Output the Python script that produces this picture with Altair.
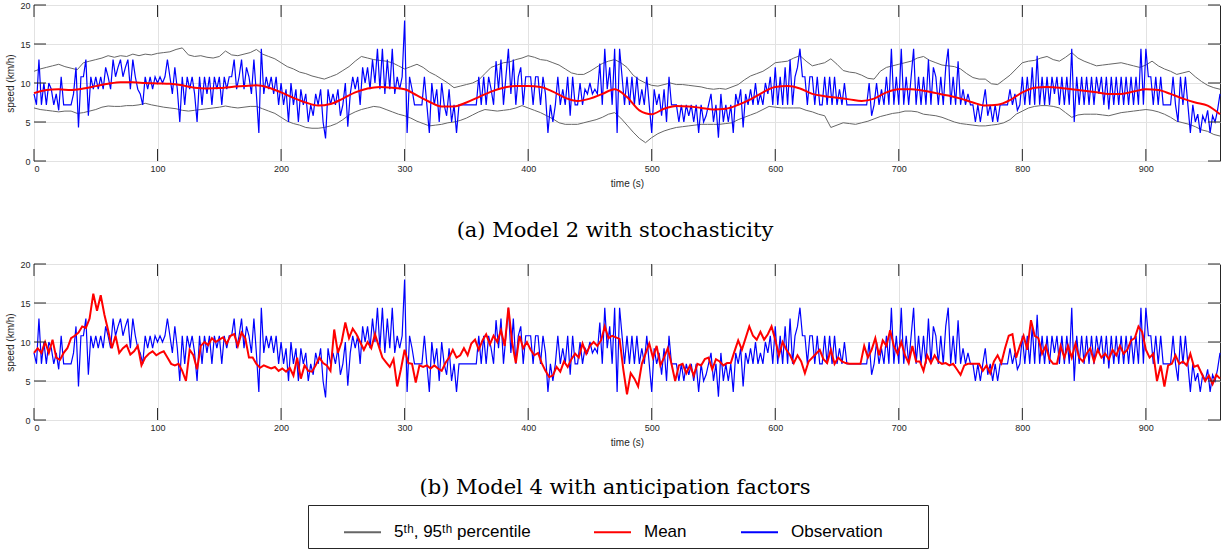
import altair as alt
import pandas as pd

# ---------------- data ----------------
# Observation, every 2 s, t = 0 .. 960
obs = [
    8.6, 7.2, 13.0, 7.2, 10.0, 7.2, 10.0, 9.2, 7.2, 8.6, 6.5, 10.8, 7.2, 7.2, 7.2, 7.2, 8.6, 12.0, 4.3, 10.8,
    10.8, 13.0, 5.8, 10.8, 9.2, 10.8, 9.2, 10.8, 9.2, 12.0, 10.8, 9.2, 13.0, 10.8, 12.0, 13.0, 10.8, 12.0, 13.0, 9.2,
    13.0, 10.8, 9.2, 8.6, 7.2, 10.8, 9.2, 10.8, 9.2, 10.8, 10.0, 10.8, 10.0, 10.8, 13.0, 10.8, 8.6, 12.0, 9.2, 5.0,
    10.8, 7.2, 10.8, 9.2, 10.8, 8.6, 5.0, 10.8, 7.2, 10.8, 8.6, 10.8, 7.2, 10.8, 9.2, 10.8, 7.2, 10.8, 9.2, 10.8,
    10.8, 13.0, 9.2, 10.8, 13.0, 9.2, 12.0, 10.8, 8.6, 13.0, 8.6, 3.6, 14.4, 8.6, 10.8, 9.2, 10.8, 8.6, 10.8, 7.2,
    10.0, 7.2, 9.2, 5.0, 10.0, 7.2, 9.2, 5.0, 9.2, 7.2, 8.6, 5.0, 7.2, 5.8, 8.6, 7.2, 9.2, 5.0, 2.9, 9.2,
    7.2, 8.6, 7.2, 9.2, 5.8, 7.2, 10.0, 4.4, 8.6, 10.8, 9.2, 10.8, 7.2, 12.0, 10.0, 12.0, 9.2, 13.0, 10.0, 14.4,
    9.2, 14.4, 8.6, 13.0, 9.2, 14.4, 8.6, 10.8, 9.2, 10.8, 18.0, 3.6, 10.8, 9.2, 7.2, 7.2, 7.2, 7.2, 10.8, 7.2,
    3.6, 10.0, 7.2, 9.2, 5.0, 10.0, 7.2, 5.8, 9.2, 5.0, 7.2, 3.6, 7.2, 7.2, 7.2, 7.2, 7.2, 7.2, 7.2, 7.2,
    10.8, 7.2, 10.8, 7.2, 10.8, 9.2, 7.2, 12.8, 9.2, 13.0, 7.2, 10.8, 14.4, 8.6, 13.0, 7.2, 10.8, 12.0, 7.2, 10.8,
    10.8, 10.8, 7.2, 10.8, 10.8, 7.2, 10.8, 8.6, 3.6, 7.2, 5.0, 7.2, 10.8, 7.2, 9.2, 7.2, 10.8, 5.8, 10.8, 7.2,
    7.2, 10.0, 7.2, 9.2, 8.6, 10.0, 8.6, 9.2, 8.6, 12.5, 7.2, 14.4, 9.2, 12.0, 7.2, 14.4, 3.6, 14.4, 10.8, 7.2,
    10.8, 7.2, 10.8, 7.2, 10.8, 7.2, 9.2, 7.2, 10.8, 7.2, 3.6, 9.2, 7.2, 8.6, 5.8, 9.2, 5.0, 10.8, 7.2, 7.2,
    7.2, 5.0, 7.2, 5.0, 7.2, 5.8, 7.2, 5.0, 7.2, 3.6, 7.2, 5.0, 5.8, 7.2, 8.6, 5.0, 7.2, 3.0, 8.6, 5.0,
    7.2, 5.0, 7.2, 3.6, 8.6, 7.2, 9.2, 4.3, 8.6, 7.2, 9.2, 7.2, 10.0, 7.2, 8.6, 7.2, 10.0, 8.6, 10.8, 7.2,
    12.0, 7.2, 10.8, 7.2, 12.0, 7.2, 13.0, 7.2, 10.8, 12.0, 14.4, 10.8, 10.8, 7.2, 10.8, 10.8, 7.2, 10.8, 7.2, 7.2,
    10.8, 7.2, 10.8, 7.2, 10.8, 7.2, 9.2, 7.2, 10.0, 7.2, 7.2, 7.2, 7.2, 7.2, 7.2, 7.2, 7.2, 7.2, 10.0, 5.8,
    7.2, 10.0, 7.2, 9.2, 7.2, 10.8, 7.2, 14.4, 7.2, 10.8, 7.2, 14.4, 7.2, 10.8, 7.2, 10.8, 14.4, 7.2, 10.8, 7.2,
    10.8, 7.2, 13.0, 7.2, 12.0, 10.8, 7.2, 10.8, 7.2, 12.0, 14.4, 7.2, 10.8, 7.2, 12.8, 7.2, 9.2, 7.2, 8.6, 7.2,
    7.2, 5.0, 7.2, 5.0, 7.2, 9.2, 5.8, 7.2, 5.0, 7.2, 5.0, 7.2, 7.2, 7.2, 7.2, 9.2, 7.2, 8.6, 6.5, 7.2,
    10.8, 7.2, 10.8, 7.2, 12.0, 7.2, 13.5, 7.2, 10.8, 7.2, 10.8, 7.2, 10.8, 8.6, 10.8, 7.2, 10.8, 7.2, 10.8, 7.2,
    14.4, 5.0, 10.8, 7.2, 10.8, 7.2, 10.8, 7.2, 10.8, 7.2, 10.8, 8.6, 10.8, 7.2, 10.8, 6.6, 10.8, 7.2, 10.8, 7.2,
    10.8, 7.2, 10.8, 7.2, 10.8, 7.2, 10.8, 7.2, 14.4, 7.2, 14.4, 10.8, 10.8, 7.2, 10.8, 7.2, 10.8, 7.2, 7.2, 7.2,
    7.2, 10.8, 7.2, 5.0, 10.8, 7.2, 10.8, 7.2, 3.6, 7.2, 5.0, 6.0, 3.6, 5.8, 5.0, 6.5, 3.6, 5.8, 5.0, 6.5,
    8.6,
]

# Model 2 mean, every 10 s
mean_a = [
    8.7, 9.1, 9.2, 9.1, 9.3, 9.6, 9.9, 10.1, 10.1, 10.0,
    9.95, 9.9, 9.7, 9.4, 9.3, 9.35, 9.5, 9.6, 9.7, 9.4,
    8.8, 8.1, 7.5, 7.1, 7.3, 8.0, 8.8, 9.3, 9.5, 9.4,
    9.2, 8.4, 7.6, 7.0, 7.0, 7.5, 8.2, 8.9, 9.4, 9.6,
    9.6, 9.5, 8.9, 8.1, 7.7, 8.0, 8.6, 9.2, 8.2, 6.5,
    6.0, 6.7, 7.05, 7.0, 6.8, 6.6, 6.7, 7.2, 7.9, 8.8,
    9.5, 9.6, 9.3, 8.6, 8.3, 8.1, 7.9, 7.7, 8.0, 8.8,
    9.2, 9.2, 9.0, 8.7, 8.4, 8.0, 7.5, 7.1, 7.2, 7.8,
    8.8, 9.4, 9.5, 9.4, 9.2, 9.0, 8.8, 8.6, 8.6, 8.9,
    9.2, 9.1, 8.6, 8.0, 7.5, 7.1, 6.0,
]

# Model 2 percentiles, every 5 s
p95 = [
    11.5, 11.8, 12.0, 12.2, 12.4, 12.1, 11.9, 11.7, 12.6, 12.8,
    13.0, 13.2, 13.5, 13.3, 13.5, 13.4, 13.7, 13.5, 13.7, 13.6,
    13.8, 13.9, 14.0, 14.3, 14.5, 13.6, 13.4, 13.5, 13.3, 13.2,
    13.4, 14.1, 13.6, 13.5, 13.7, 13.9, 14.3, 13.7, 13.4, 13.1,
    12.6, 12.1, 11.8, 11.4, 11.2, 10.9, 10.7, 10.5, 10.8, 11.1,
    11.6, 12.1, 12.8, 13.4, 13.2, 13.0, 12.9, 12.8, 12.6, 12.2,
    11.8, 12.1, 12.4, 12.0, 11.4, 11.0, 10.5, 10.0, 9.4, 9.6,
    9.8, 10.0, 10.4, 11.2, 12.0, 12.3, 12.6, 12.7, 13.0, 13.2,
    13.5, 13.3, 13.0, 12.9, 12.6, 12.3, 11.8, 11.3, 11.1, 11.1,
    11.5, 12.0, 12.5, 12.8, 13.0, 12.6, 12.0, 11.0, 10.4, 10.0,
    9.7, 9.6, 9.8, 10.0, 9.8, 9.8, 9.7, 9.6, 9.5, 9.3,
    9.2, 9.3, 9.2, 9.5, 9.8, 10.4, 10.9, 11.2, 11.5, 12.0,
    12.6, 12.7, 12.8, 13.2, 13.5, 12.8, 12.2, 12.4, 12.6, 13.1,
    12.4, 11.6, 11.4, 11.3, 11.0, 10.6, 10.5, 11.5, 12.0, 12.2,
    12.4, 12.6, 12.8, 13.2, 13.4, 12.9, 12.6, 12.3, 12.2, 12.1,
    11.8, 11.2, 10.7, 10.5, 10.5, 9.9, 9.8, 10.4, 11.0, 11.8,
    12.6, 12.8, 12.9, 13.2, 13.4, 13.0, 12.8, 13.3, 13.9, 13.2,
    12.8, 12.5, 12.2, 12.3, 12.4, 12.5, 12.6, 12.4, 12.2, 12.0,
    12.3, 12.8, 12.2, 11.8, 11.5, 11.1, 11.3, 11.5, 10.8, 10.2,
    9.7, 9.4, 9.2,
]
p05 = [
    6.8, 6.6, 6.5, 6.4, 6.3, 6.4, 6.4, 6.1, 6.2, 6.4,
    6.6, 6.9, 7.05, 7.0, 7.0, 7.1, 7.1, 7.2, 7.4, 7.2,
    7.05, 6.9, 6.8, 6.7, 6.5, 6.4, 6.5, 6.6, 6.7, 6.8,
    6.9, 7.05, 6.9, 6.8, 6.9, 7.0, 7.0, 6.7, 6.4, 6.1,
    5.6, 5.1, 4.8, 4.6, 4.3, 4.2, 4.2, 4.3, 4.5, 4.8,
    5.3, 5.9, 6.3, 6.6, 6.8, 7.0, 6.9, 6.6, 6.3, 6.0,
    5.8, 5.5, 5.1, 4.8, 4.5, 4.6, 4.7, 4.9, 5.0, 5.2,
    5.5, 5.9, 6.3, 6.6, 6.5, 6.4, 6.5, 6.6, 6.8, 7.1,
    6.8, 6.5, 6.2, 5.8, 5.4, 4.9, 4.7, 4.7, 4.7, 4.9,
    5.1, 5.3, 5.6, 6.0, 6.2, 5.5, 4.6, 3.7, 2.9, 2.35,
    3.0, 3.5, 3.85, 4.1, 4.3, 4.4, 4.5, 4.6, 4.7, 4.7,
    4.7, 4.7, 4.8, 4.9, 5.3, 5.6, 5.9, 6.2, 6.6, 7.0,
    6.9, 6.8, 6.8, 6.8, 6.8, 6.5, 6.3, 6.0, 5.8, 4.3,
    4.6, 4.9, 4.8, 4.7, 4.9, 5.1, 5.4, 5.7, 5.9, 6.1,
    6.2, 6.4, 6.4, 6.3, 6.0, 5.9, 5.8, 5.6, 5.3, 5.0,
    4.8, 4.7, 4.6, 4.5, 4.5, 4.6, 4.7, 4.9, 5.3, 6.0,
    6.4, 6.8, 7.0, 7.1, 7.1, 7.0, 6.8, 6.2, 5.6, 5.9,
    6.0, 6.0, 6.0, 5.9, 5.8, 6.0, 6.2, 6.3, 6.4, 6.5,
    6.6, 6.5, 6.3, 6.0, 5.6, 5.1, 4.9, 4.7, 4.4, 4.0,
    3.8, 3.4, 3.2,
]

# Model 4 mean, every 3 s
mean_b = [
    8.6, 9.2, 8.6, 10.0, 8.6, 10.3, 8.0, 7.7, 8.6, 9.2,
    10.5, 10.8, 11.2, 12.0, 11.8, 13.0, 16.2, 14.0, 16.0, 13.5,
    11.5, 9.2, 10.8, 8.6, 9.2, 9.6, 8.4, 8.8, 9.5, 7.0,
    8.0, 8.5, 8.8, 8.3, 8.6, 8.8, 8.0, 7.2, 7.0, 7.2,
    6.3, 5.0, 9.0, 8.3, 6.5, 9.5, 10.0, 9.6, 10.5, 10.0,
    10.3, 10.6, 9.8, 10.8, 11.0, 9.5, 11.2, 10.5, 8.0, 8.0,
    7.2, 6.7, 7.0, 6.8, 6.6, 6.8, 6.3, 6.6, 6.2, 6.7,
    5.7, 8.0, 5.3, 7.0, 6.3, 6.2, 7.0, 8.0, 7.3, 7.0,
    6.3, 11.6, 8.6, 10.0, 12.5, 10.5, 11.7, 11.0, 10.0, 9.0,
    10.0, 9.2, 11.0, 9.5, 8.0, 7.4, 6.8, 7.8, 4.3, 6.5,
    9.0, 7.3, 7.2, 4.8, 7.0, 6.8, 7.0, 6.6, 7.0, 6.6,
    6.3, 7.3, 8.0, 9.0, 8.0, 8.3, 9.2, 8.3, 9.8, 10.3,
    9.0, 10.2, 11.0, 9.7, 10.8, 10.0, 11.5, 9.5, 14.4, 10.0,
    7.3, 10.8, 9.2, 10.0, 9.0, 8.3, 8.6, 7.3, 6.3, 5.5,
    5.7, 6.8, 6.2, 7.5, 6.8, 7.8, 8.5, 8.0, 9.8, 8.5,
    9.5, 10.0, 9.5, 10.2, 12.0, 10.5, 10.8, 10.6, 10.4, 6.5,
    3.3, 6.0, 5.3, 4.3, 7.2, 8.5, 9.8, 8.0, 9.5, 7.0,
    8.0, 9.2, 7.2, 5.0, 7.0, 7.2, 6.0, 7.0, 5.7, 7.2,
    7.0, 7.8, 8.0, 6.5, 7.8, 7.5, 7.0, 7.3, 7.3, 8.8,
    10.2, 9.0, 10.5, 12.0, 10.8, 10.3, 11.3, 10.3, 11.0, 12.0,
    10.3, 8.3, 10.0, 9.0, 8.3, 7.3, 8.3, 7.5, 6.0, 7.5,
    8.0, 8.5, 9.0, 7.8, 7.3, 9.0, 7.2, 8.0, 7.5, 7.3,
    7.2, 7.2, 7.2, 7.2, 9.5, 8.0, 9.0, 10.5, 8.3, 10.2,
    9.5, 11.5, 9.5, 8.5, 10.0, 8.3, 7.3, 9.5, 7.5, 7.5,
    6.3, 8.3, 7.3, 8.3, 7.5, 7.2, 7.3, 7.0, 7.2, 6.5,
    5.8, 7.0, 7.2, 7.2, 7.2, 7.2, 6.3, 7.0, 6.0, 7.5,
    8.3, 7.3, 9.2, 10.8, 11.0, 8.0, 9.5, 10.8, 9.0, 12.8,
    10.8, 10.5, 8.5, 9.5, 7.8, 7.2, 7.2, 9.5, 8.0, 9.5,
    8.0, 9.8, 8.0, 7.5, 8.5, 9.2, 7.5, 9.0, 8.0, 8.5,
    7.8, 9.0, 8.3, 9.5, 8.5, 9.0, 10.2, 10.5, 12.0, 11.3,
    9.0, 8.0, 8.5, 5.0, 7.0, 4.3, 7.0, 7.2, 8.3, 7.2,
    7.5, 7.0, 8.5, 6.8, 7.0, 6.0, 5.0, 5.7, 4.6, 5.8,
    5.3,
]

x_ticks = [0, 100, 200, 300, 400, 500, 600, 700, 800, 900]
y_ticks = [0, 5, 10, 15, 20]
T_END = 960
SERIES = ["5\u1d57\u02b0, 95\u1d57\u02b0 percentile", "Mean", "Observation"]
COLORS = ["#666666", "#ff0000", "#0000ff"]
CAP_A = "(a) Model 2 with stochasticity"
CAP_B = "(b) Model 4 with anticipation factors"


def frame(vals, series, band=None):
    n = len(vals)
    return pd.DataFrame({
        "t": [T_END * i / (n - 1) for i in range(n)],
        "v": vals,
        "s": series,
        "b": band if band else series,
    })


W, H = 1186, 156
TICK = 12
INK = "#262626"
NB = "\u00a0"     # non-breaking space (kept inside the label)
ZW = "\u200b"     # zero-width end marker so the padding is not trimmed

x_enc = alt.X("t:Q", scale=alt.Scale(domain=[0, T_END], nice=False, zero=False),
              axis=alt.Axis(values=x_ticks, title="time (s)", grid=True, format="d",
                            labelPadding=3, titlePadding=5))
y_enc = alt.Y("v:Q", scale=alt.Scale(domain=[0, 20], nice=False, zero=True),
              axis=alt.Axis(values=y_ticks, title="speed (km/h)", grid=True,
                            labelPadding=4, titlePadding=4))

label_expr = (
    f"datum.label == 'Observation' ? 'Observation{NB * 8}{ZW}' : "
    f"(datum.label == 'Mean' ? 'Mean' : datum.label + '{NB * 2}{ZW}')"
)
legend = alt.Legend(
    title=None, orient="none", legendX=274, legendY=500, direction="horizontal",
    symbolType="stroke", symbolSize=1369, symbolStrokeWidth=2,
    labelFont="Liberation Sans", labelFontSize=17, labelColor="black",
    labelOffset=12, columnPadding=25, padding=7.5, symbolOffset=27.5,
    strokeColor=INK, fillColor="white",
    labelExpr=label_expr,
)
c_enc = alt.Color("s:N", scale=alt.Scale(domain=SERIES, range=COLORS), legend=legend)


def tick_layers():
    xt = pd.DataFrame({"t": x_ticks})
    yt = pd.DataFrame({"v": y_ticks})
    base_x = alt.Chart(xt).mark_rule(color=INK, strokeWidth=1)
    base_y = alt.Chart(yt).mark_rule(color=INK, strokeWidth=1)
    return [
        base_x.encode(x=x_enc, y=alt.value(H - TICK), y2=alt.value(H)),
        base_x.encode(x=x_enc, y=alt.value(0), y2=alt.value(TICK)),
        base_y.encode(y=y_enc, x=alt.value(0), x2=alt.value(TICK)),
        base_y.encode(y=y_enc, x=alt.value(W - TICK), x2=alt.value(W)),
    ]


def caption(text, offset):
    return alt.TitleParams(text=text, orient="bottom", anchor="middle", frame="group",
                           dx=-12, font="DejaVu Serif", fontSize=21, fontWeight="normal",
                           color="black", offset=offset)


df_obs = frame(obs, SERIES[2])
df_pct = pd.concat([frame(p05, SERIES[0], "p05"), frame(p95, SERIES[0], "p95")])
df_ma = frame(mean_a, SERIES[1])
df_mb = frame(mean_b, SERIES[1])

pct_layer = alt.Chart(df_pct).mark_line(strokeWidth=1).encode(
    x=x_enc, y=y_enc, color=c_enc, detail="b:N")
obs_layer = alt.Chart(df_obs).mark_line(strokeWidth=1.2).encode(x=x_enc, y=y_enc, color=c_enc)
ma_layer = alt.Chart(df_ma).mark_line(strokeWidth=2, interpolate="monotone").encode(
    x=x_enc, y=y_enc, color=c_enc)
mb_layer = alt.Chart(df_mb).mark_line(strokeWidth=2).encode(x=x_enc, y=y_enc, color=c_enc)

top = alt.layer(pct_layer, obs_layer, ma_layer, *tick_layers()).properties(
    width=W, height=H, title=caption(CAP_A, 32))
bottom = alt.layer(obs_layer, mb_layer, *tick_layers()).properties(
    width=W, height=H, title=caption(CAP_B, 30))

chart = alt.vconcat(top, bottom, spacing=17).properties(
    padding={"left": 5, "top": 0, "right": 4, "bottom": 0}
).configure_view(
    stroke=INK, strokeWidth=1
).configure_axis(
    domain=False, ticks=False,
    labelFont="Liberation Sans", labelFontSize=9, labelColor=INK,
    titleFont="Liberation Sans", titleFontSize=10, titleFontWeight="normal", titleColor=INK,
    gridColor="#e2e2e2", gridWidth=1,
)

chart.save("out.html", embed_options={"renderer": "svg", "actions": False})
